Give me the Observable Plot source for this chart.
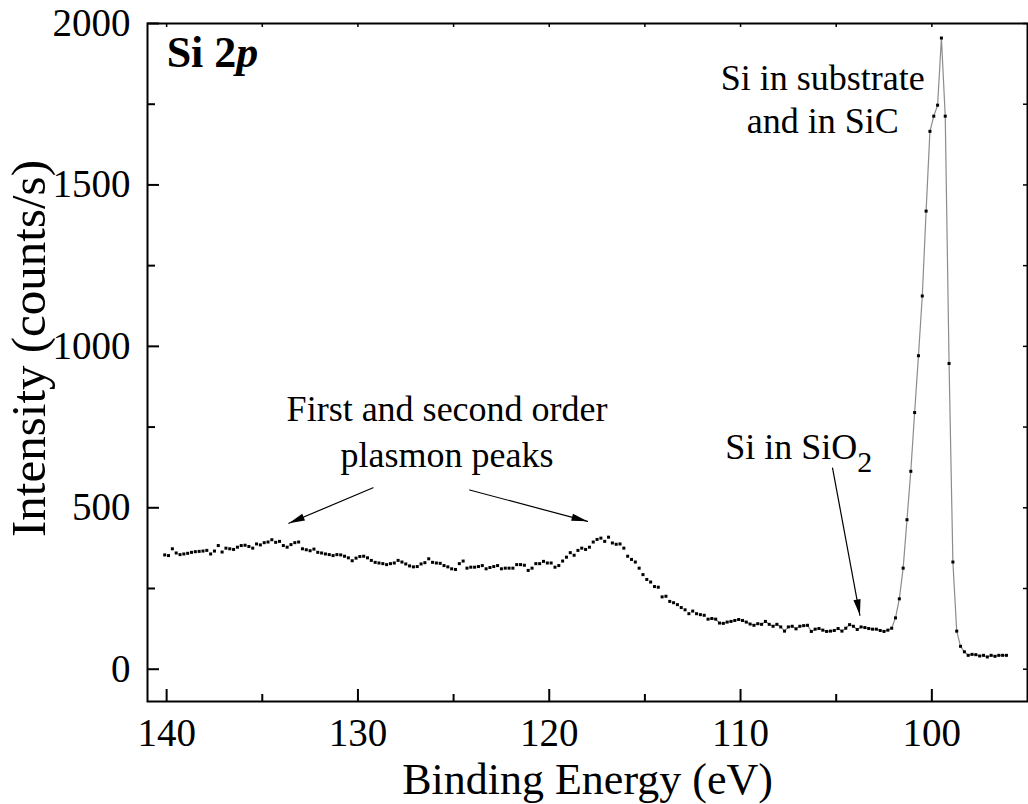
<!DOCTYPE html>
<html><head><meta charset="utf-8">
<script src="https://cdn.jsdelivr.net/npm/d3@7"></script>
<script src="https://cdn.jsdelivr.net/npm/@observablehq/plot@0.6"></script>
<style>
html,body{margin:0;padding:0;background:#fff;}
#chart svg, #chart svg text, #chart svg tspan { font-family: "Liberation Serif", "DejaVu Serif", serif !important; }
</style>
</head><body><div id="chart"></div>
<script>
// Binding energy (eV) of each measured point
const energy = [
140.1,139.9,139.7,139.5,139.3,139.1,138.9,138.7,138.5,138.3,
138.1,137.9,137.7,137.5,137.3,137.1,136.9,136.7,136.5,136.3,
136.1,135.9,135.7,135.5,135.3,135.1,134.9,134.7,134.5,134.3,
134.1,133.9,133.7,133.5,133.3,133.1,132.9,132.7,132.5,132.3,
132.1,131.9,131.7,131.5,131.3,131.1,130.9,130.7,130.5,130.3,
130.1,129.9,129.7,129.5,129.3,129.1,128.9,128.7,128.5,128.3,
128.1,127.9,127.7,127.5,127.3,127.1,126.9,126.7,126.5,126.3,
126.1,125.9,125.7,125.5,125.3,125.1,124.9,124.7,124.5,124.3,
124.1,123.9,123.7,123.5,123.3,123.1,122.9,122.7,122.5,122.3,
122.1,121.9,121.7,121.5,121.3,121.1,120.9,120.7,120.5,120.3,
120.1,119.9,119.7,119.5,119.3,119.1,118.9,118.7,118.5,118.3,
118.1,117.9,117.7,117.5,117.3,117.1,116.9,116.7,116.5,116.3,
116.1,115.9,115.7,115.5,115.3,115.1,114.9,114.7,114.5,114.3,
114.1,113.9,113.7,113.5,113.3,113.1,112.9,112.7,112.5,112.3,
112.1,111.9,111.7,111.5,111.3,111.1,110.9,110.7,110.5,110.3,
110.1,109.9,109.7,109.5,109.3,109.1,108.9,108.7,108.5,108.3,
108.1,107.9,107.7,107.5,107.3,107.1,106.9,106.7,106.5,106.3,
106.1,105.9,105.7,105.5,105.3,105.1,104.9,104.7,104.5,104.3,
104.1,103.9,103.7,103.5,103.3,103.1,102.9,102.7,102.5,102.3,
102.1,101.9,101.7,101.5,101.3,101.1,100.9,100.7,100.5,100.3,
100.1,99.9,99.7,99.5,99.3,99.1,98.9,98.7,98.5,98.3,
98.1,97.9,97.7,97.5,97.3,97.1,96.9,96.7,96.5,96.3,96.1
];
// Intensity (counts/s) of each measured point
const intensity = [
354,352,373,360,355,357,359,362,364,365,
366,368,357,366,383,363,375,373,371,378,
383,384,380,375,388,385,392,394,401,393,
396,383,378,386,392,394,373,370,367,372,
362,360,357,355,352,355,354,350,345,336,
344,349,350,345,337,331,329,327,324,327,
329,337,332,326,320,317,318,326,330,342,
331,329,328,321,317,311,309,327,335,313,
316,316,318,321,311,315,318,321,311,313,
313,313,324,324,322,306,313,327,327,334,
329,329,316,321,335,347,361,353,368,375,
371,378,394,402,406,396,409,391,387,388,
375,350,340,332,313,293,278,270,256,254,
224,226,210,206,200,191,184,172,180,172,
169,167,155,157,155,143,142,146,148,151,
154,151,146,140,136,141,139,148,139,133,
139,131,118,131,133,125,133,135,136,117,
124,126,121,117,118,120,126,118,127,138,
133,123,131,129,126,124,124,120,117,121,
127,159,218,313,463,613,795,971,1156,1419,
1666,1713,1747,1955,1713,947,332,118,71,54,
43,46,45,41,43,38,43,40,43,43,43
];
const fitStartEnergy = 111.8; // the grey fitted line covers the Si region only

const xMajorTicks = [140, 130, 120, 110, 100];
const xMinorTicks = [135, 125, 115, 105];
const yMajorTicks = [0, 500, 1000, 1500, 2000];
const yMinorTicks = [250, 750, 1250, 1750];

const xTitle = "Binding Energy (eV)";
const yTitle = "Intensity (counts/s)";

const centeredNotes = [
  {text: "Si in substrate", x: 105.7, y: 1874},
  {text: "and in SiC", x: 105.7, y: 1740},
  {text: "First and second order", x: 125.34, y: 847},
  {text: "plasmon peaks", x: 125.34, y: 707}
];
const leftNotes = [
  {text: "Si in SiO2", x: 110.8, y: 730}
];
const panelLabel = [{text: "Si 2p", x: 140, y: 1963}];

const arrows = [
  {x1: 129.21, y1: 562, x2: 133.61, y2: 452},
  {x1: 124.16, y1: 555, x2: 118.0, y2: 458},
  {x1: 105.19, y1: 623, x2: 103.76, y2: 167}
];

// ---- layout ----
const W = 1028, H = 804, mL = 147, mR = 1, mT = 23, mB = 103;
const xDomain = [141, 95], yDomain = [-100, 2000];
const frameW = W - mL - mR, frameH = H - mT - mB;

const points = energy.map((e, i) => ({energy: e, intensity: intensity[i]}));
const fitPoints = points.filter(d => d.energy <= fitStartEnergy);

// arrow head orientation in screen space
const xs = d3.scaleLinear(xDomain, [mL, W - mR]);
const ys = d3.scaleLinear(yDomain, [H - mB, mT]);
arrows.forEach(a => {
  const dx = xs(a.x2) - xs(a.x1), dy = ys(a.y2) - ys(a.y1);
  a.angle = Math.atan2(dx, -dy) * 180 / Math.PI;
});
const headSymbol = {draw(ctx) { ctx.moveTo(0, 0); ctx.lineTo(-3.6, 16); ctx.lineTo(3.6, 16); ctx.closePath(); }};

const serif = "Liberation Serif";

const chart = Plot.plot({
  width: W, height: H,
  marginLeft: mL, marginRight: mR, marginTop: mT, marginBottom: mB,
  style: {fontFamily: serif, fontSize: "36px", background: "white", color: "black"},
  x: {domain: xDomain},
  y: {domain: yDomain},
  marks: [
    Plot.line(fitPoints, {x: "energy", y: "intensity", stroke: "#8c8c8c", strokeWidth: 1.2}),
    Plot.dot(points, {x: "energy", y: "intensity", symbol: "square", r: 1.7, fill: "black", stroke: "none"}),
    // inward ticks: bottom
    Plot.tickX(xMajorTicks, {x: d => d, insetTop: frameH - 12, stroke: "black", strokeWidth: 2}),
    Plot.tickX(xMinorTicks, {x: d => d, insetTop: frameH - 7, stroke: "black", strokeWidth: 2}),
    // top mirrored ticks
    Plot.tickX(xMajorTicks.concat(xMinorTicks), {x: d => d, insetBottom: frameH - 4, stroke: "black", strokeWidth: 1.5}),
    // left ticks
    Plot.tickY(yMajorTicks, {y: d => d, insetRight: frameW - 12, stroke: "black", strokeWidth: 2}),
    Plot.tickY(yMinorTicks, {y: d => d, insetRight: frameW - 8, stroke: "black", strokeWidth: 2}),
    // right mirrored ticks
    Plot.tickY(yMajorTicks.concat(yMinorTicks), {y: d => d, insetLeft: frameW - 4, stroke: "black", strokeWidth: 1.5}),
    Plot.frame({stroke: "black", strokeWidth: 2}),
    Plot.axisX({ticks: xMajorTicks, tickSize: 0, tickPadding: 17, fontSize: 39, fontFamily: serif, label: null, tickFormat: d => String(d)}),
    Plot.axisY({ticks: yMajorTicks, tickSize: 0, tickPadding: 17, fontSize: 39, fontFamily: serif, label: null, tickFormat: d => String(d)}),
    Plot.text([xTitle], {frameAnchor: "bottom", dy: 61, lineAnchor: "top", textAnchor: "middle", fontSize: 44, fontFamily: serif, text: d => d}),
    Plot.text([yTitle], {frameAnchor: "left", dx: -118, dy: -14, rotate: -90, textAnchor: "middle", lineAnchor: "middle", fontSize: 49, fontFamily: serif, text: d => d}),
    // annotations
    Plot.arrow(arrows, {x1: "x1", y1: "y1", x2: "x2", y2: "y2", stroke: "black", strokeWidth: 1.2, headLength: 0}),
    Plot.dot(arrows, {x: "x2", y: "y2", symbol: headSymbol, rotate: "angle", fill: "black", stroke: "none"}),
    Plot.text(centeredNotes, {x: "x", y: "y", text: "text", textAnchor: "middle", lineAnchor: "top", fontSize: 36, fontFamily: serif}),
    Plot.text(leftNotes, {x: "x", y: "y", text: "text", textAnchor: "start", lineAnchor: "top", fontSize: 36, fontFamily: serif}),
    Plot.text(panelLabel, {x: "x", y: "y", text: "text", textAnchor: "start", lineAnchor: "top", fontSize: 44, fontWeight: "bold", fontFamily: serif})
  ]
});

// rich text: subscript and italic
chart.querySelectorAll("text").forEach(t => {
  if (t.textContent === "Si in SiO2") {
    t.textContent = "Si in SiO";
    const s = document.createElementNS("http://www.w3.org/2000/svg", "tspan");
    s.setAttribute("dy", "13");
    s.setAttribute("font-size", "30");
    s.textContent = "2";
    t.appendChild(s);
  } else if (t.textContent === "Si 2p") {
    t.textContent = "Si 2";
    const s = document.createElementNS("http://www.w3.org/2000/svg", "tspan");
    s.setAttribute("font-style", "italic");
    s.textContent = "p";
    t.appendChild(s);
  }
});

document.getElementById("chart").appendChild(chart);
</script>
</body></html>
